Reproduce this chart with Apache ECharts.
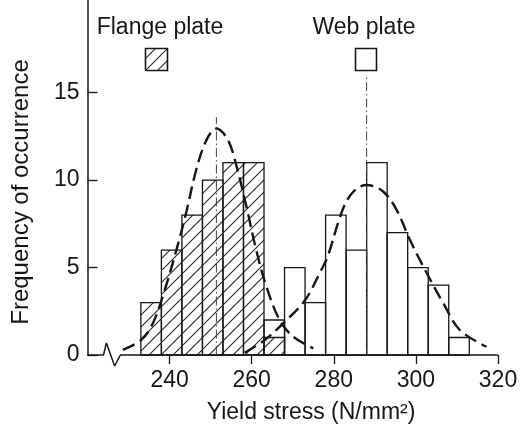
<!DOCTYPE html>
<html><head><meta charset="utf-8">
<script src="https://cdn.jsdelivr.net/npm/echarts@6/dist/echarts.min.js"></script>
<style>html,body{margin:0;padding:0;background:#fff}#c{width:521px;height:431px}</style>
</head><body><div id="c"></div>
<script>
// ---- data ----
const flangeEdges = [233, 238, 243, 248, 253, 258, 263, 268];
const flangeCounts = [3, 6, 8, 10, 11, 11, 1];
const webEdges = [263, 268, 273, 278, 283, 288, 293, 298, 303, 308, 313];
const webCounts = [2, 5, 3, 8, 6, 11, 7, 5, 4, 1];
const flangeCurve = [[228.6,0.29],[233.1,0.86],[235.9,1.8],[238.8,3.7],[242.0,6.3],[244.1,8.2],[246.5,10.6],[249.0,12.3],[251.4,12.95],[254.2,12.3],[256.3,10.8],[258.7,8.5],[261.1,6.0],[263.6,3.9],[266.8,2.0],[270.1,1.05],[275.0,0.38]];
const webCurve = [[258.3,0.13],[263.2,0.86],[267.6,1.8],[272.9,3.1],[276.6,4.7],[278.6,5.7],[281.1,7.6],[283.1,8.8],[285.5,9.5],[288.0,9.72],[292.0,9.35],[295.3,8.3],[298.5,6.6],[302.6,4.7],[306.7,2.95],[310.7,1.43],[317.2,0.47]];
const flangeMean = [[251.4, 0], [251.4, 13.6]];
const webMean = [[288.0, 0], [288.0, 16.0]];
const xTicks = [240, 260, 280, 300, 320];
const yTicks = [0, 5, 10, 15];
const axisBreak = [[220,0],[223.9,0],[224.6,0.69],[226.6,-0.63],[228.0,0],[320,0]];
const legendNames = ['Flange plate', 'Web plate'];
const xTitle = 'Yield stress (N/mm²)';
const yTitle = 'Frequency of occurrence';

// ---- hatch pattern ----
const pc = document.createElement('canvas'); pc.width = 12; pc.height = 12;
const g = pc.getContext('2d');
g.strokeStyle = '#2a2a2a'; g.lineWidth = 1.1;
g.beginPath();
g.moveTo(-1, 13); g.lineTo(13, -1);
g.moveTo(-1, 1); g.lineTo(1, -1);
g.moveTo(11, 13); g.lineTo(13, 11);
g.stroke();
const hatch = { image: pc, repeat: 'repeat' };

const FONT = 'Liberation Sans, Arial, sans-serif';
const INK = '#161616';

function hist(fill) {
  return function (params, api) {
    const x0 = api.value(0), x1 = api.value(1), v = api.value(2);
    const p0 = api.coord([x0, v]), p1 = api.coord([x1, 0]);
    return { type: 'rect',
      shape: { x: p0[0], y: p0[1], width: p1[0] - p0[0], height: p1[1] - p0[1] },
      style: { fill: fill, stroke: INK, lineWidth: 1.3 } };
  };
}

const chart = echarts.init(document.getElementById('c'), null, { renderer: 'canvas' });
chart.setOption({
  backgroundColor: '#fff',
  animation: false,
  grid: { left: 87.5, right: 23, top: 0, bottom: 76, containLabel: false },
  xAxis: {
    type: 'value', min: 220, max: 320,
    axisLine: { show: false },
    axisTick: { show: true, inside: false, length: 9, customValues: xTicks, lineStyle: { color: INK, width: 1.3 } },
    axisLabel: { show: true, customValues: xTicks, margin: 14, fontFamily: FONT, fontSize: 23, color: INK },
    splitLine: { show: false }
  },
  yAxis: {
    type: 'value', min: 0, max: 20.3,
    axisLine: { show: true, lineStyle: { color: INK, width: 1.5 } },
    axisTick: { show: true, inside: true, length: 10, customValues: yTicks, lineStyle: { color: INK, width: 1.3 } },
    axisLabel: { show: true, customValues: yTicks, margin: 8, fontFamily: FONT, fontSize: 23, color: INK },
    splitLine: { show: false }
  },
  series: [
    { type: 'line', data: axisBreak, showSymbol: false, clip: false, z: 5,
      lineStyle: { color: INK, width: 1.5 } },
    { type: 'custom', name: legendNames[1], renderItem: hist('rgba(0,0,0,0)'), z: 2, clip: false,
      encode: { x: [0, 1], y: 2 },
      data: webCounts.map((c, i) => [webEdges[i], webEdges[i + 1], c]) },
    { type: 'custom', name: legendNames[0], renderItem: hist(hatch), z: 2, clip: false,
      encode: { x: [0, 1], y: 2 },
      data: flangeCounts.map((c, i) => [flangeEdges[i], flangeEdges[i + 1], c]) },
    { type: 'line', data: flangeMean, showSymbol: false, z: 3,
      lineStyle: { color: '#444', width: 1, type: [9, 3, 1.5, 3] } },
    { type: 'line', data: webMean, showSymbol: false, z: 3,
      lineStyle: { color: '#444', width: 1, type: [9, 3, 1.5, 3] } },
    { type: 'line', data: flangeCurve, smooth: 0.35, showSymbol: false, z: 4,
      lineStyle: { color: INK, width: 2.4, type: [13, 6] } },
    { type: 'line', data: webCurve, smooth: 0.35, showSymbol: false, z: 4,
      lineStyle: { color: INK, width: 2.4, type: [13, 6] } }
  ],
  graphic: [
    { type: 'text', x: 21, y: 192, rotation: Math.PI / 2,
      style: { text: yTitle, fontFamily: FONT, fontSize: 24, fill: INK, align: 'center', verticalAlign: 'middle' } },
    { type: 'text', x: 311, y: 413,
      style: { text: xTitle, fontFamily: FONT, fontSize: 23, fill: INK, align: 'center', verticalAlign: 'middle' } },
    { type: 'text', x: 160, y: 28, style: { text: legendNames[0], fontFamily: FONT, fontSize: 23, fill: INK, align: 'center', verticalAlign: 'middle' } },
    { type: 'rect', shape: { x: 145.5, y: 48.5, width: 22, height: 22 }, style: { fill: hatch, stroke: INK, lineWidth: 1.6 } },
    { type: 'text', x: 364, y: 28, style: { text: legendNames[1], fontFamily: FONT, fontSize: 23, fill: INK, align: 'center', verticalAlign: 'middle' } },
    { type: 'rect', shape: { x: 355.5, y: 48.5, width: 21, height: 22 }, style: { fill: '#fff', stroke: INK, lineWidth: 1.6 } }
  ]
});
</script></body></html>
